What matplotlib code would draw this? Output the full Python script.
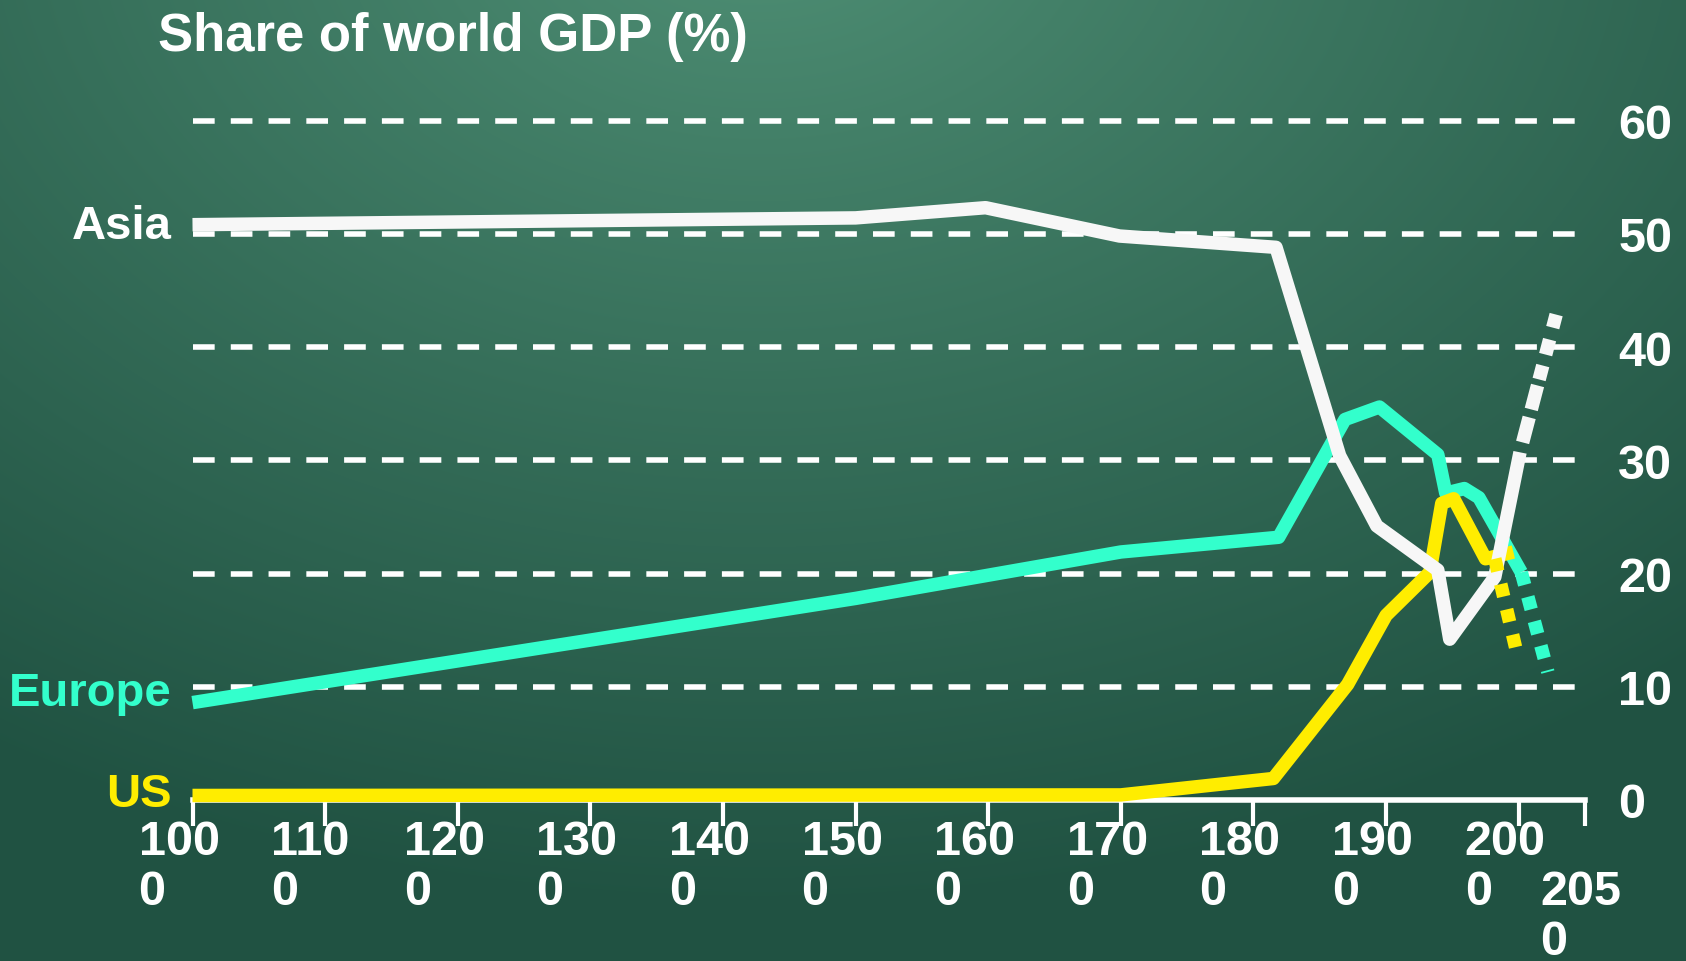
import numpy as np
import matplotlib
matplotlib.use("Agg")
import matplotlib.pyplot as plt

plt.rcParams["font.family"] = ["Liberation Sans", "DejaVu Sans"]
plt.rcParams["font.weight"] = "bold"

# share of world GDP (%), historical
asia_years = [1000, 1500, 1598, 1699, 1817, 1865, 1893, 1939, 1948, 1982, 2001]
asia_share = [50.8, 51.4, 52.3, 49.8, 48.8, 30.4, 24.2, 20.3, 14.2, 19.7, 30.7]
europe_years = [1000, 1500, 1700, 1819, 1869, 1895, 1939, 1945, 1959, 1970, 2002]
europe_share = [8.6, 17.8, 21.9, 23.2, 33.6, 34.7, 30.5, 27.1, 27.5, 26.7, 20.1]
us_years = [1000, 1700, 1815, 1871, 1900, 1933, 1942, 1951, 1975, 1996]
us_share = [0.4, 0.45, 1.9, 10.2, 16.3, 20.1, 26.2, 26.6, 21.3, 21.9]

# projections
asia_proj_years = [2001, 2029]
asia_proj_share = [30.7, 43.2]
europe_proj_years = [2002, 2022]
europe_proj_share = [20.1, 11.3]
us_proj_years = [1982, 1998]
us_proj_share = [21.3, 13.3]

tick_years = [1000, 1100, 1200, 1300, 1400, 1500, 1600, 1700, 1800, 1900, 2000, 2050]
tick_labels = [str(y) for y in tick_years]
y_ticks = [0, 10, 20, 30, 40, 50, 60]

WHITE = "#f7f7f7"
TEAL = "#33ffcc"
YELLOW = "#ffed00"

W, H = 1686, 962
fig = plt.figure(figsize=(W / 100, H / 100), dpi=100)

# chalkboard background
bg = fig.add_axes([0, 0, 1, 1], zorder=-10)
yy, xx = np.mgrid[0:H, 0:W]
d = np.sqrt(((xx - 0.45 * W) / (0.85 * W)) ** 2 + ((yy + 0.1 * H) / (1.05 * H)) ** 2)
d = np.clip(d, 0, 1) ** 0.9
c0 = np.array([80, 145, 118]) / 255
c1 = np.array([32, 82, 66]) / 255
img = c0 + (c1 - c0) * d[..., None]
bg.imshow(img, aspect="auto", extent=[0, 1, 0, 1])
bg.axis("off")

px = 0.72  # points per pixel at 100 dpi
ax = fig.add_axes([192.5 / W, 1 - 801 / H, (1585 - 192.5) / W, (801 - 121.5) / H])
ax.patch.set_visible(False)
ax.set_xlim(1000, 2050)
ax.set_ylim(0, 60)

for s in ["top", "left", "right"]:
    ax.spines[s].set_visible(False)
ax.spines["bottom"].set_color("white")
ax.spines["bottom"].set_linewidth(4)
ax.spines["bottom"].set_zorder(2)

for y in y_ticks[1:]:
    ax.axhline(y, color="white", lw=4, linestyle=(0, (3.9, 2.9)), zorder=1,
               clip_on=False)

ax.set_xticks(tick_years)
ax.tick_params(axis="x", length=18.5, width=3, color="white", direction="out",
               labelbottom=False)
ax.set_yticks(y_ticks)
ax.yaxis.tick_right()
ax.tick_params(axis="y", length=0, pad=24, labelsize=35, labelcolor="white")

# wrapped year labels under the axis
for i, lab in enumerate(tick_labels):
    last = i == len(tick_labels) - 1
    dx = -45 if last else -54
    base = 905 if last else 855
    for k, part in enumerate([lab[:3], lab[3:]]):
        ax.annotate(part, xy=(tick_years[i], 0), xycoords=("data", "axes fraction"),
                    xytext=(dx * px, -(base + 50 * k - 801) * px),
                    textcoords="offset points", ha="left", va="baseline",
                    fontsize=35, color="white", annotation_clip=False)

lw = 9.7
kw = dict(lw=lw, solid_capstyle="butt", solid_joinstyle="round", clip_on=False)
ax.plot(europe_years, europe_share, color=TEAL, zorder=3, **kw)
ax.plot(us_years, us_share, color=YELLOW, zorder=4, **kw)
ax.plot(asia_years, asia_share, color=WHITE, zorder=5, **kw)

dkw = dict(lw=lw, dash_capstyle="butt", clip_on=False, zorder=6)
ax.plot(europe_proj_years, europe_proj_share, color=TEAL,
        linestyle=(0, (0.96, 0.92)), **dkw)
ax.plot(us_proj_years, us_proj_share, color=YELLOW,
        linestyle=(0, (0.95, 0.98)), **dkw)
asia_dash = (1.92, 0.61, 1.84, 0.46, 1.07, 0.84, 1.15, 0.92, 1.0, 0.76)
ax.plot(asia_proj_years, asia_proj_share, color=WHITE,
        linestyle=(sum(asia_dash) - 0.76, asia_dash), **dkw)

# series names at the start of each line
for name, yrs, vals, col, dy in [("Asia", asia_years, asia_share, "white", 13.6),
                                  ("Europe", europe_years, europe_share, TEAL, 2.7),
                                  ("US", us_years, us_share, YELLOW, 11)]:
    ax.annotate(name, xy=(yrs[0], vals[0]), xytext=(-21 * px, -dy * px),
                textcoords="offset points", ha="right", va="baseline",
                fontsize=34, color=col, annotation_clip=False)

fig.text(158 / W, 1 - 51 / H, "Share of world GDP (%)", fontsize=38,
         color="white", va="baseline", ha="left")

fig.savefig("out.png", dpi=100)
